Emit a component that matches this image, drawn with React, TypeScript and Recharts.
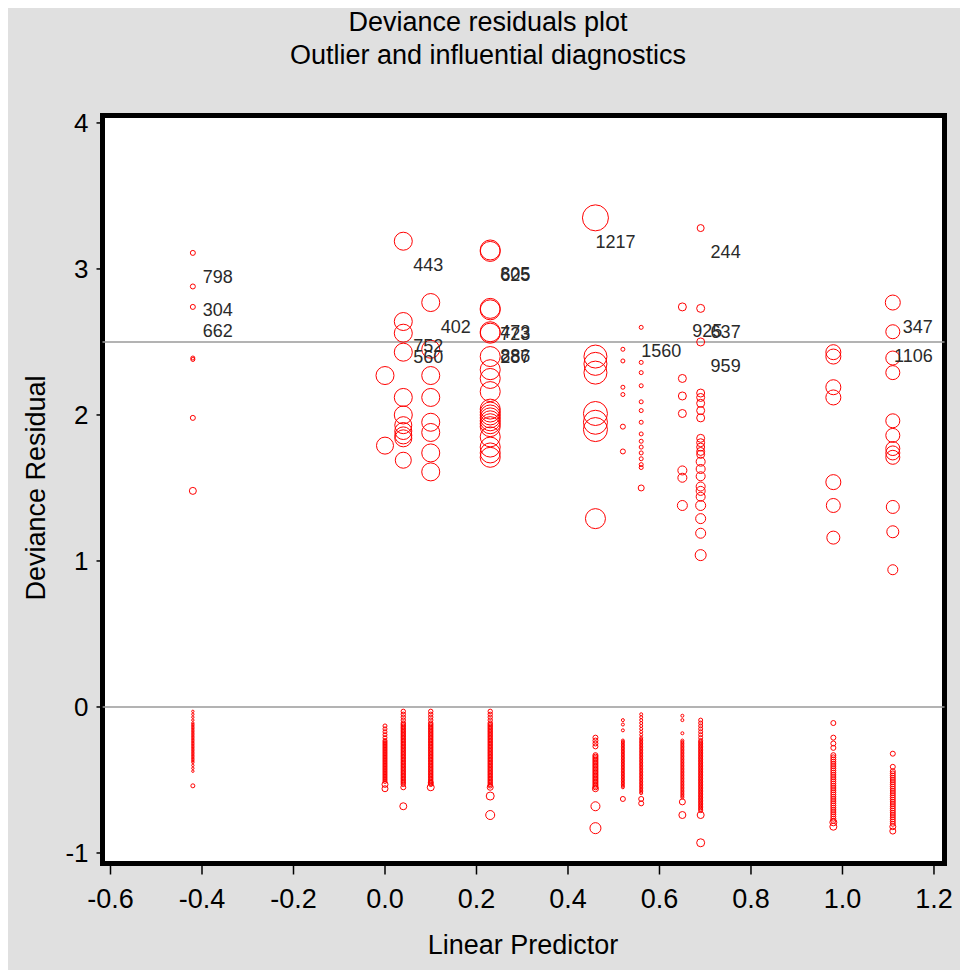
import React from 'react';
import {
  ScatterChart,
  Scatter,
  XAxis,
  YAxis,
  ZAxis,
  CartesianGrid,
  ReferenceLine,
  ReferenceArea,
} from 'recharts';

// Linear predictor values of the covariate patterns
const GROUP_LP = [-0.42, 0.0, 0.04, 0.1, 0.23, 0.46, 0.52, 0.56, 0.65, 0.69, 0.98, 1.11];

// Positive deviance residuals per group: [residual, influence]
const upperByGroup: [number, number][][] = [
  [[3.11, 2.5], [2.88, 2.5], [2.74, 2.5], [2.39, 2], [2.38, 2], [1.98, 2.5], [1.48, 3.5]],
  [[2.27, 9], [1.79, 8.5]],
  [[3.19, 9], [2.64, 9], [2.56, 9], [2.43, 9], [2.12, 9], [2.0, 9], [1.93, 8.5], [1.89, 8.5], [1.86, 8.5], [1.84, 8.5], [1.69, 8]],
  [[2.77, 9], [2.45, 9], [2.27, 9], [2.12, 9], [1.95, 9], [1.88, 9], [1.74, 9], [1.61, 9]],
  [[3.13, 10], [3.12, 10], [2.73, 10], [2.72, 10], [2.57, 10], [2.56, 10], [2.4, 10], [2.31, 10], [2.25, 10], [2.16, 10], [2.04, 10], [2.02, 10], [2.0, 10], [1.98, 10], [1.96, 10], [1.94, 10], [1.92, 10], [1.85, 10], [1.78, 10], [1.74, 10], [1.71, 10]],
  [[3.35, 13], [2.4, 11.5], [2.35, 11.5], [2.29, 11.5], [2.01, 12], [1.95, 12], [1.9, 12], [1.29, 10]],
  [[2.45, 2], [2.37, 2], [2.19, 2], [2.14, 2], [1.92, 2.5], [1.75, 2.5]],
  [[2.6, 2], [2.36, 2], [2.29, 2], [2.2, 2], [2.09, 2], [2.03, 2], [1.95, 2], [1.87, 2], [1.82, 2], [1.78, 2], [1.74, 2], [1.7, 2], [1.66, 2], [1.64, 2], [1.5, 3]],
  [[2.74, 4], [2.25, 4], [2.13, 4], [2.01, 4], [1.62, 4.5], [1.57, 4.5], [1.38, 5]],
  [[3.28, 3.5], [2.73, 4], [2.5, 4], [2.15, 4], [2.12, 4], [2.08, 4], [2.03, 4], [1.98, 4], [1.84, 4], [1.81, 4], [1.78, 4], [1.75, 4], [1.73, 4], [1.68, 4.5], [1.63, 4.5], [1.58, 4.5], [1.51, 4.5], [1.48, 4.5], [1.44, 4.5], [1.38, 5], [1.29, 5], [1.19, 5], [1.04, 5.5]],
  [[2.43, 7.5], [2.4, 7.5], [2.19, 7.5], [2.12, 7.5], [1.54, 7.5], [1.38, 7], [1.16, 6.5]],
  [[2.77, 7.5], [2.57, 7], [2.39, 7], [2.29, 7], [1.96, 7], [1.86, 7], [1.77, 7], [1.74, 7], [1.71, 7], [1.37, 6.5], [1.2, 6], [0.94, 5]],
];

// Negative deviance residuals per group (dense streaks of many observations)
const lowerByGroup: number[][] = [
  [-0.03, -0.05, -0.07, -0.09, -0.11, -0.12, -0.13, -0.14, -0.15, -0.16, -0.17, -0.18, -0.19, -0.2, -0.21, -0.22, -0.23, -0.24, -0.25, -0.26, -0.27, -0.28, -0.29, -0.3, -0.31, -0.32, -0.33, -0.34, -0.35, -0.36, -0.37, -0.38, -0.4, -0.42, -0.44],
  [-0.13, -0.15, -0.17, -0.19, -0.21, -0.23, -0.24, -0.25, -0.26, -0.27, -0.28, -0.29, -0.3, -0.31, -0.32, -0.33, -0.34, -0.35, -0.36, -0.37, -0.38, -0.39, -0.4, -0.41, -0.42, -0.43, -0.44, -0.45, -0.46, -0.47, -0.48, -0.49, -0.5, -0.51],
  [-0.03, -0.05, -0.07, -0.09, -0.11, -0.12, -0.13, -0.14, -0.15, -0.16, -0.17, -0.18, -0.19, -0.2, -0.21, -0.22, -0.23, -0.24, -0.25, -0.26, -0.27, -0.28, -0.29, -0.3, -0.31, -0.32, -0.33, -0.34, -0.35, -0.36, -0.37, -0.38, -0.39, -0.4, -0.41, -0.42, -0.43, -0.44, -0.45, -0.46, -0.47, -0.48, -0.49, -0.5, -0.51, -0.52, -0.53],
  [-0.03, -0.05, -0.07, -0.09, -0.11, -0.12, -0.13, -0.14, -0.15, -0.16, -0.17, -0.18, -0.19, -0.2, -0.21, -0.22, -0.23, -0.24, -0.25, -0.26, -0.27, -0.28, -0.29, -0.3, -0.31, -0.32, -0.33, -0.34, -0.35, -0.36, -0.37, -0.38, -0.39, -0.4, -0.41, -0.42, -0.43, -0.44, -0.45, -0.46, -0.47, -0.48, -0.49, -0.5, -0.51, -0.52, -0.53],
  [-0.03, -0.05, -0.07, -0.09, -0.11, -0.12, -0.13, -0.14, -0.15, -0.16, -0.17, -0.18, -0.19, -0.2, -0.21, -0.22, -0.23, -0.24, -0.25, -0.26, -0.27, -0.28, -0.29, -0.3, -0.31, -0.32, -0.33, -0.34, -0.35, -0.36, -0.37, -0.38, -0.39, -0.4, -0.41, -0.42, -0.43, -0.44, -0.45, -0.46, -0.47, -0.48, -0.49, -0.5, -0.51, -0.52, -0.53, -0.54],
  [-0.21, -0.23, -0.25, -0.27, -0.33, -0.34, -0.35, -0.36, -0.37, -0.38, -0.39, -0.4, -0.41, -0.42, -0.43, -0.44, -0.45, -0.46, -0.47, -0.48, -0.49, -0.5, -0.51, -0.52, -0.53, -0.54, -0.55],
  [-0.09, -0.12, -0.16, -0.23, -0.24, -0.25, -0.26, -0.27, -0.28, -0.29, -0.3, -0.31, -0.32, -0.33, -0.34, -0.35, -0.36, -0.37, -0.38, -0.39, -0.4, -0.41, -0.42, -0.43, -0.44, -0.45, -0.46, -0.47, -0.48, -0.49, -0.5, -0.51, -0.52, -0.53, -0.54, -0.55],
  [-0.05, -0.07, -0.09, -0.11, -0.13, -0.15, -0.17, -0.19, -0.21, -0.22, -0.23, -0.24, -0.25, -0.26, -0.27, -0.28, -0.29, -0.3, -0.31, -0.32, -0.33, -0.34, -0.35, -0.36, -0.37, -0.38, -0.39, -0.4, -0.41, -0.42, -0.43, -0.44, -0.45, -0.46, -0.47, -0.48, -0.49, -0.5, -0.51, -0.52, -0.53, -0.54, -0.55, -0.56, -0.57, -0.58, -0.59],
  [-0.06, -0.09, -0.18, -0.23, -0.24, -0.25, -0.26, -0.27, -0.28, -0.29, -0.3, -0.31, -0.32, -0.33, -0.34, -0.35, -0.36, -0.37, -0.38, -0.39, -0.4, -0.41, -0.42, -0.43, -0.44, -0.45, -0.46, -0.47, -0.48, -0.49, -0.5, -0.51, -0.52, -0.53, -0.54, -0.55, -0.56, -0.57, -0.58, -0.59, -0.6, -0.61, -0.62],
  [-0.09, -0.11, -0.13, -0.15, -0.17, -0.19, -0.21, -0.23, -0.24, -0.25, -0.26, -0.27, -0.28, -0.29, -0.3, -0.31, -0.32, -0.33, -0.34, -0.35, -0.36, -0.37, -0.38, -0.39, -0.4, -0.41, -0.42, -0.43, -0.44, -0.45, -0.46, -0.47, -0.48, -0.49, -0.5, -0.51, -0.52, -0.53, -0.54, -0.55, -0.56, -0.57, -0.58, -0.59, -0.6, -0.61, -0.62, -0.63, -0.64, -0.65, -0.66, -0.67, -0.68, -0.69, -0.7, -0.71],
  [-0.11, -0.21, -0.25, -0.28, -0.33, -0.345, -0.36, -0.375, -0.39, -0.405, -0.42, -0.435, -0.45, -0.465, -0.48, -0.495, -0.51, -0.525, -0.54, -0.555, -0.57, -0.585, -0.6, -0.615, -0.63, -0.645, -0.66, -0.675, -0.69, -0.705, -0.72, -0.735, -0.75, -0.765, -0.78],
  [-0.32, -0.41, -0.44, -0.455, -0.47, -0.485, -0.5, -0.515, -0.53, -0.545, -0.56, -0.575, -0.59, -0.605, -0.62, -0.635, -0.65, -0.665, -0.68, -0.695, -0.71, -0.725, -0.74, -0.755, -0.77, -0.785, -0.8],
];
const lowerInfluence = [1.2, 2, 2.2, 2.2, 2.2, 2.5, 1.5, 1.5, 1.5, 2, 2.5, 2.5];

// Larger negative-residual points: [linear predictor, residual, influence]
const lowerExtremes: [number, number, number][] = [
  [-0.42, -0.54, 2],
  [0.0, -0.53, 3], [0.0, -0.56, 3],
  [0.04, -0.55, 2.5], [0.04, -0.68, 3.5],
  [0.1, -0.52, 2.5], [0.1, -0.55, 3.5],
  [0.23, -0.55, 3], [0.23, -0.61, 4], [0.23, -0.74, 4.5],
  [0.46, -0.56, 3], [0.46, -0.68, 4.5], [0.46, -0.83, 5.5],
  [0.52, -0.63, 2.5],
  [0.56, -0.63, 2.5], [0.56, -0.66, 2.5],
  [0.65, -0.65, 3], [0.65, -0.74, 3.5],
  [0.69, -0.74, 3.5], [0.69, -0.93, 4],
  [0.98, -0.79, 3.5], [0.98, -0.82, 3.5],
  [1.11, -0.82, 3], [1.11, -0.85, 3],
];

// Labelled observations: [id, linear predictor, residual]
const outlierLabels: [string, number, number][] = [
  ['798', -0.42, 3.11], ['304', -0.42, 2.88], ['662', -0.42, 2.74],
  ['443', 0.04, 3.19], ['752', 0.04, 2.64], ['560', 0.04, 2.56],
  ['402', 0.1, 2.77],
  ['805', 0.23, 3.13], ['625', 0.23, 3.12], ['473', 0.23, 2.73], ['723', 0.23, 2.72], ['886', 0.23, 2.57], ['287', 0.23, 2.56],
  ['1217', 0.46, 3.35],
  ['1560', 0.56, 2.6],
  ['925', 0.65, 2.74],
  ['244', 0.69, 3.28], ['637', 0.69, 2.73], ['959', 0.69, 2.5],
  ['347', 1.11, 2.77], ['1106', 1.11, 2.57],
];

const X_TICKS = [-0.6, -0.4, -0.2, 0.0, 0.2, 0.4, 0.6, 0.8, 1.0, 1.2];
const Y_TICKS = [-1, 0, 1, 2, 3, 4];
const REF_LEVELS = [0, 2.5];
const TITLE_1 = 'Deviance residuals plot';
const TITLE_2 = 'Outlier and influential diagnostics';
const X_LABEL = 'Linear Predictor';
const Y_LABEL = 'Deviance Residual';

const X_DOMAIN: [number, number] = [-0.6175, 1.223];
const Y_DOMAIN: [number, number] = [-1.072, 4.051];

const upperData = GROUP_LP.flatMap((lp, i) =>
  upperByGroup[i].map(([res, inf]) => ({ x: lp, y: res, z: inf }))
);
const lowerData = GROUP_LP.flatMap((lp, i) =>
  lowerByGroup[i].map((res) => ({ x: lp, y: res, z: lowerInfluence[i] }))
).concat(lowerExtremes.map(([x, y, z]) => ({ x, y, z })));
const labelData = outlierLabels.map(([id, x, y]) => ({ x, y, id }));

const FONT = '"Liberation Sans", Arial, Helvetica, sans-serif';

const Ring = (props: any) => {
  const { cx, cy, size, payload } = props;
  if (cx == null || cy == null) return null;
  const r = typeof size === 'number' && size > 0 ? size : payload?.z ?? 2;
  return <circle cx={cx} cy={cy} r={r} fill="none" stroke="#ff0000" strokeWidth={1} />;
};

const IdLabel = (props: any) => {
  const { cx, cy, payload } = props;
  if (cx == null || cy == null) return null;
  return (
    <text x={cx + 40} y={cy + 30} textAnchor="end" fontSize={18} fill="#2a2a2a" fontFamily={FONT}>
      {payload.id}
    </text>
  );
};

export default function App() {
  return (
    <div
      style={{
        position: 'relative',
        width: 960,
        height: 962,
        background: '#e0e0e0',
        fontFamily: FONT,
        color: '#000',
      }}
    >
      <div style={{ position: 'absolute', left: 0, top: 1, width: 960, textAlign: 'center', fontSize: 27, lineHeight: '27px' }}>
        {TITLE_1}
      </div>
      <div style={{ position: 'absolute', left: 0, top: 34, width: 960, textAlign: 'center', fontSize: 27, lineHeight: '27px' }}>
        {TITLE_2}
      </div>
      <ScatterChart
        width={960}
        height={962}
        margin={{ top: 107.5, right: 23.5, bottom: 46.5, left: 0 }}
      >
        <CartesianGrid horizontal={false} vertical={false} fill="#ffffff" fillOpacity={1} />
        <XAxis
          type="number"
          dataKey="x"
          domain={X_DOMAIN}
          ticks={X_TICKS}
          allowDataOverflow
          height={60}
          axisLine={false}
          tickLine={{ stroke: '#000', strokeWidth: 1.5 }}
          tickSize={11}
          tickMargin={14}
          interval={0}
          tickFormatter={(v: number) => v.toFixed(1)}
          tick={{ fontSize: 27, fill: '#000', fontFamily: FONT }}
        />
        <YAxis
          type="number"
          dataKey="y"
          domain={Y_DOMAIN}
          ticks={Y_TICKS}
          allowDataOverflow
          width={94.5}
          axisLine={false}
          tickLine={{ stroke: '#000', strokeWidth: 1.5 }}
          tickSize={6}
          tickMargin={8}
          interval={0}
          tickFormatter={(v: number) => String(v)}
          tick={{ fontSize: 26, fill: '#000', fontFamily: FONT }}
        />
        <ZAxis type="number" dataKey="z" domain={[0, 14]} range={[0, 14]} />
        {REF_LEVELS.map((lv) => (
          <ReferenceLine key={lv} y={lv} stroke="#9a9a9a" strokeWidth={1.5} />
        ))}
        <Scatter data={lowerData} shape={(p: any) => <Ring {...p} />} isAnimationActive={false} />
        <Scatter data={upperData} shape={(p: any) => <Ring {...p} />} isAnimationActive={false} />
        <Scatter data={labelData} shape={(p: any) => <IdLabel {...p} />} isAnimationActive={false} />
        <ReferenceArea
          x1={X_DOMAIN[0]}
          x2={X_DOMAIN[1]}
          y1={Y_DOMAIN[0]}
          y2={Y_DOMAIN[1]}
          fill="none"
          fillOpacity={0}
          stroke="#000"
          strokeWidth={5}
        />
      </ScatterChart>
      <div
        style={{
          position: 'absolute',
          left: 0,
          top: 924,
          width: 1030,
          textAlign: 'center',
          fontSize: 27,
          lineHeight: '27px',
          whiteSpace: 'nowrap',
        }}
      >
        {X_LABEL}
      </div>
      <div
        style={{
          position: 'absolute',
          left: 27.6,
          top: 480,
          fontSize: 27,
          lineHeight: '27px',
          whiteSpace: 'nowrap',
          transform: 'translate(-50%, -50%) rotate(-90deg)',
        }}
      >
        {Y_LABEL}
      </div>
    </div>
  );
}
